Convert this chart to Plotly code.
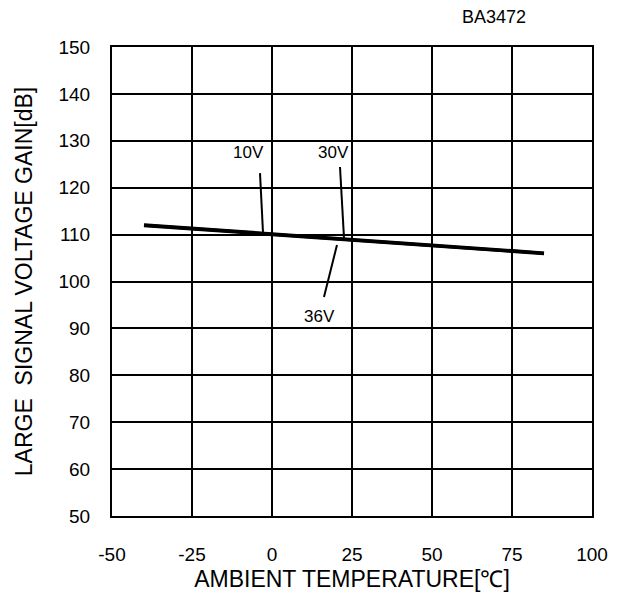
import plotly.graph_objects as go

# Ambient temperature sweep points [°C]
temps = [-40, -25, 0, 25, 50, 75, 85]

# Large signal voltage gain [dB] per supply voltage
gain_10v = [111.9, 111.2, 110.0, 108.8, 107.6, 106.4, 105.9]
gain_30v = [112.0, 111.3, 110.1, 108.9, 107.7, 106.5, 106.0]
gain_36v = [112.1, 111.4, 110.2, 109.0, 107.8, 106.6, 106.1]

x_ticks = [-50, -25, 0, 25, 50, 75, 100]
x_tick_text = ["-50", "-25", "0", "25", "50", "75", "100"]
y_ticks = [50, 60, 70, 80, 90, 100, 110, 120, 130, 140, 150]

FONT = "Liberation Sans, Arial, sans-serif"

fig = go.Figure()
for name, vals in [("10V", gain_10v), ("30V", gain_30v), ("36V", gain_36v)]:
    fig.add_trace(go.Scatter(x=temps, y=vals, mode="lines", name=name,
                             line=dict(color="black", width=3),
                             showlegend=False))

# Leader lines from labels to the curves
leaders = [
    ((-3.75, 123.1), (-2.8, 110.3)),
    ((21.25, 124.4), (22.5, 109.3)),
    ((20.3, 107.8), (16.25, 96.7)),
]
for (x0, y0), (x1, y1) in leaders:
    fig.add_shape(type="line", x0=x0, y0=y0, x1=x1, y1=y1,
                  xref="x", yref="y", line=dict(color="black", width=2))

labels = [("10V", -7.5, 127.6), ("30V", 19.1, 127.6), ("36V", 14.7, 92.6)]
for text, x, y in labels:
    fig.add_annotation(x=x, y=y, text=text, showarrow=False,
                       font=dict(family=FONT, size=17, color="black"))

# Model name above the top-right corner of the plot area
fig.add_annotation(x=(494 - 112) / 480, y=1 + (47 - 17) / 469,
                   xref="paper", yref="paper", text="BA3472",
                   xanchor="center", yanchor="middle",
                   showarrow=False, font=dict(family=FONT, size=18, color="black"))

fig.update_layout(
    width=627, height=606,
    margin=dict(l=112, r=35, t=47, b=90),
    paper_bgcolor="white", plot_bgcolor="white",
    font=dict(family=FONT, size=19, color="black"),
)

fig.update_xaxes(range=[-50, 100], tickvals=x_ticks, ticktext=x_tick_text,
                 showgrid=True, gridcolor="black", gridwidth=2, showline=True,
                 linecolor="black", linewidth=2, mirror=True, ticks="",
                 ticklabelstandoff=20, zeroline=False, tickfont=dict(size=19),
                 title=dict(text="AMBIENT TEMPERATURE[℃]", font=dict(size=23), standoff=7))
fig.update_yaxes(range=[50, 150], tickvals=y_ticks, showgrid=True,
                 gridcolor="black", gridwidth=2, showline=True, linecolor="black",
                 linewidth=2, mirror=True, ticks="", ticklabelstandoff=16,
                 zeroline=False, tickfont=dict(size=19),
                 title=dict(text="LARGE\u00a0 SIGNAL VOLTAGE GAIN[dB]", font=dict(size=23), standoff=19))

fig.write_html("out.html")
